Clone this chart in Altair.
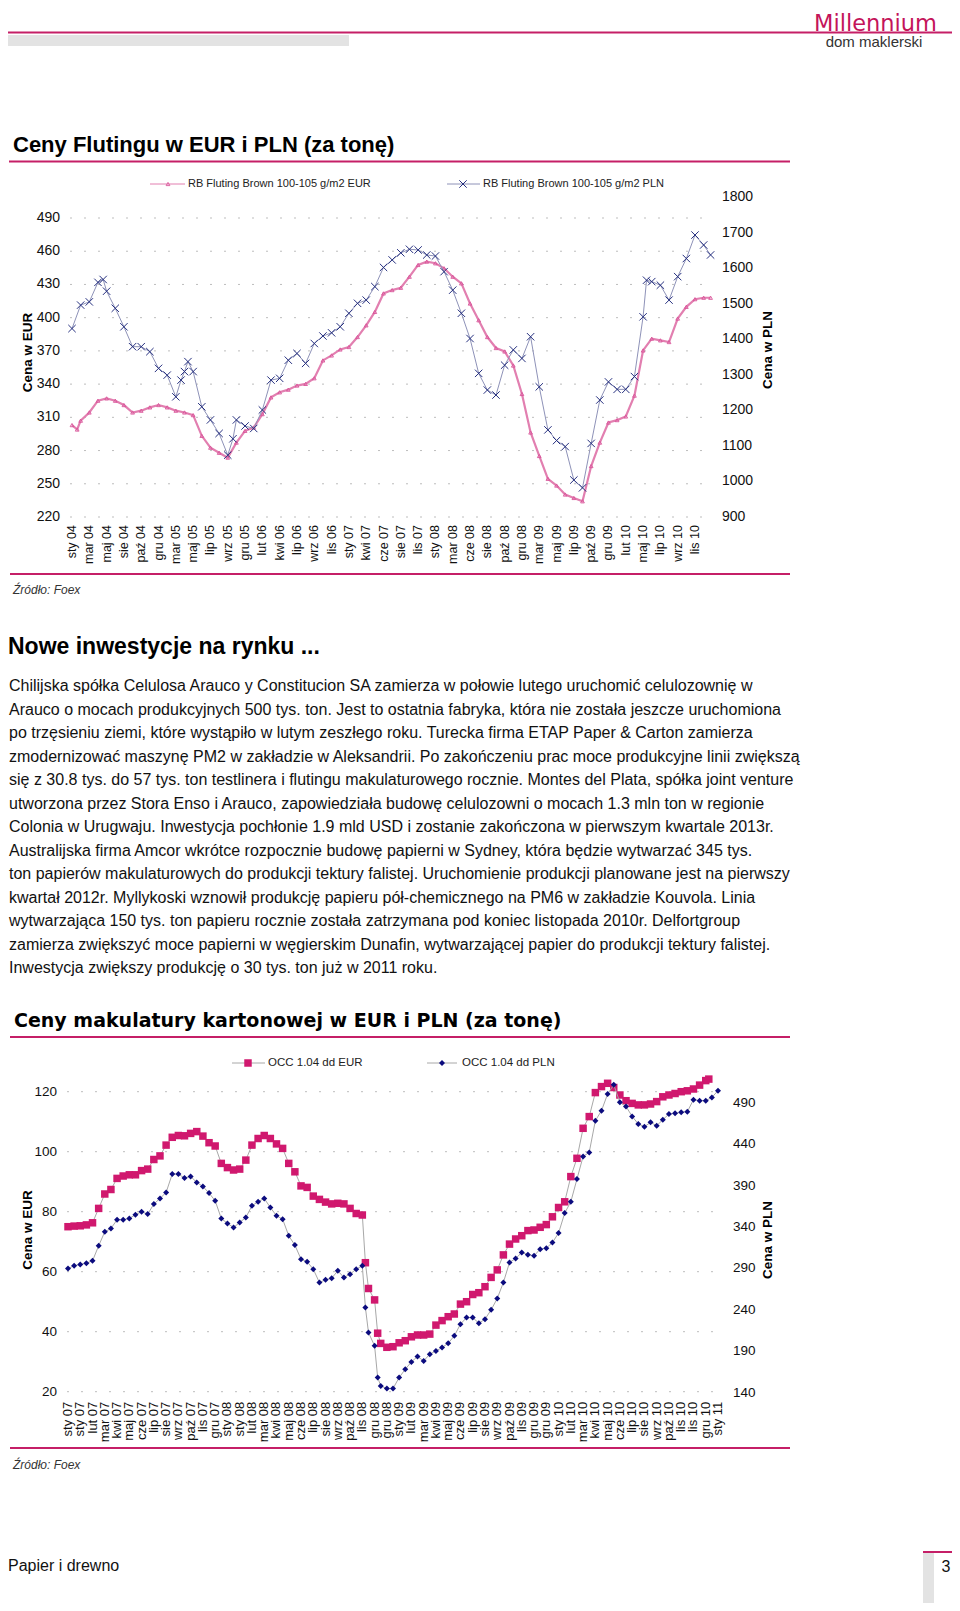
import altair as alt
import pandas as pd

FONT = "Liberation Sans"

# ---------------- data: chart 1 (Fluting, weekly index from sty 04) ----------------
fl_labels = ["sty 04", "mar 04", "maj 04", "sie 04", "paź 04", "gru 04", "mar 05", "maj 05",
             "lip 05", "wrz 05", "gru 05", "lut 06", "kwi 06", "lip 06", "wrz 06", "lis 06",
             "sty 07", "kwi 07", "cze 07", "sie 07", "lis 07", "sty 08", "mar 08", "cze 08",
             "sie 08", "paź 08", "gru 08", "mar 09", "maj 09", "lip 09", "paź 09", "gru 09",
             "lut 10", "maj 10", "lip 10", "wrz 10", "lis 10"]
fl_label_weeks = [0, 10, 20, 30, 40, 50, 60, 70, 80, 90, 100, 110, 120, 130, 140, 150, 160, 170,
                  180, 190, 200, 210, 220, 230, 240, 250, 260, 270, 280, 290, 300, 310, 320, 330,
                  340, 350, 360]

fl_eur_weeks = [0, 3, 5, 10, 15, 20, 25, 30, 35, 40, 45, 50, 55, 60, 65, 70, 75, 80, 85, 90, 95,
                100, 105, 110, 115, 120, 125, 130, 135, 140, 145, 150, 155, 160, 165, 170, 175,
                180, 185, 190, 195, 200, 205, 210, 215, 220, 225, 230, 235, 240, 245, 250, 255,
                260, 265, 270, 275, 280, 285, 290, 295, 300, 305, 310, 315, 320, 325, 330, 335,
                340, 345, 350, 355, 360, 365, 369]
fl_eur = [303, 299, 307, 314.4, 325, 327.1, 325, 321.1, 314.4, 316, 319, 321.1, 319, 316, 314.4,
          312, 293.3, 282.6, 278, 273.6, 287.2, 297.8, 300.8, 312.9, 328, 332.6, 335, 338.7,
          340.2, 345.3, 361.4, 365.9, 371.3, 373.5, 382.5, 393.1, 405.2, 421.9, 424.9, 427, 437,
          447.6, 450.6, 449.1, 444.6, 437, 431, 412.8, 397.7, 382.5, 372.6, 369.5, 356.8, 331.1,
          296.3, 275.1, 254.5, 248.4, 240.3, 237.2, 234.2, 266, 287.2, 305.3, 307.5, 310.8,
          329.6, 370.4, 381, 379.5, 378, 399.2, 409.8, 416.7, 418, 418]

fl_pln_weeks = [0, 5, 10, 15, 18, 20, 25, 30, 35, 40, 45, 50, 55, 60, 63, 65, 67, 70, 75, 80, 85,
                90, 93, 95, 100, 105, 110, 115, 120, 125, 130, 135, 140, 145, 150, 155, 160, 165,
                170, 175, 180, 185, 190, 195, 200, 205, 210, 215, 220, 225, 230, 235, 240, 245,
                250, 255, 260, 265, 270, 275, 280, 285, 290, 295, 300, 305, 310, 315, 320, 325,
                330, 332, 335, 340, 345, 350, 355, 360, 365, 369]
fl_pln = [1430, 1496, 1505, 1560, 1568, 1535, 1487, 1435, 1379, 1379, 1365, 1318, 1299, 1238,
          1285, 1309, 1337, 1309, 1210, 1173, 1135, 1074, 1120, 1173, 1156, 1149, 1201, 1285,
          1290, 1341, 1360, 1332, 1388, 1409, 1418, 1435, 1473, 1501, 1510, 1548, 1602, 1623,
          1643, 1653, 1651, 1637, 1634, 1590, 1538, 1473, 1402, 1304, 1257, 1243, 1327, 1370,
          1346, 1407, 1266, 1145, 1115, 1098, 1004, 982, 1107, 1229, 1280, 1259, 1259, 1295,
          1463, 1566, 1562, 1552, 1510, 1576, 1627, 1693, 1665, 1637]

fl_eur_ticks = [220, 250, 280, 310, 340, 370, 400, 430, 460, 490]
fl_pln_ticks = [900, 1000, 1100, 1200, 1300, 1400, 1500, 1600, 1700, 1800]

# ---------------- data: chart 2 (OCC, weekly index from sty 07) ----------------
occ_labels = ["sty 07", "sty 07", "lut 07", "mar 07", "kwi 07", "maj 07", "cze 07", "lip 07",
              "sie 07", "wrz 07", "paź 07", "lis 07", "gru 07", "sty 08", "sty 08", "lut 08",
              "mar 08", "kwi 08", "maj 08", "cze 08", "lip 08", "sie 08", "wrz 08", "paź 08",
              "lis 08", "gru 08", "gru 08", "sty 09", "lut 09", "mar 09", "kwi 09", "maj 09",
              "cze 09", "lip 09", "sie 09", "wrz 09", "paź 09", "lis 09", "gru 09", "gru 09",
              "sty 10", "lut 10", "mar 10", "kwi 10", "maj 10", "cze 10", "lip 10", "sie 10",
              "wrz 10", "paź 10", "lis 10", "lis 10", "gru 10", "sty 11"]
occ_label_weeks = [4 * i for i in range(len(occ_labels))]

occ_eur_weeks = [0, 2, 4, 6, 8, 10, 12, 14, 16, 18, 20, 22, 24, 26, 28, 30, 32, 34, 36, 38, 40,
                 42, 44, 46, 48, 50, 52, 54, 56, 58, 60, 62, 64, 66, 68, 70, 72, 74, 76, 78, 80,
                 82, 84, 86, 88, 90, 92, 94, 96, 97, 98, 100, 101, 102, 104, 106, 108, 110, 112,
                 114, 116, 118, 120, 122, 124, 126, 128, 130, 132, 134, 136, 138, 140, 142, 144,
                 146, 148, 150, 152, 154, 156, 158, 160, 162, 164, 166, 168, 170, 172, 174, 176,
                 178, 180, 182, 184, 186, 188, 190, 192, 194, 196, 198, 200, 202, 204, 206, 208,
                 209]
occ_eur = [75.0, 75.2, 75.3, 75.6, 76.3, 81.1, 85.9, 87.4, 91.1, 91.9, 92.3, 92.3, 93.7, 94.2,
           97.4, 98.6, 102.2, 104.8, 105.4, 105.3, 106.1, 106.7, 105.2, 103.0, 101.9, 96.1, 94.7,
           93.9, 94.2, 97.2, 102.2, 104.4, 105.4, 104.4, 102.6, 101.1, 96.1, 93.3, 88.6, 88.1,
           85.2, 84.1, 83.2, 82.6, 82.8, 82.6, 81.1, 79.4, 78.9, 63.0, 54.4, 50.6, 39.5, 36.1,
           34.8, 35.0, 36.3, 37.0, 38.3, 38.9, 38.9, 39.2, 42.2, 43.7, 45.0, 45.9, 49.2, 50.0,
           52.4, 53.0, 55.0, 58.1, 60.6, 65.6, 69.2, 70.9, 72.0, 73.7, 73.9, 74.8, 75.7, 78.3,
           81.4, 83.3, 91.7, 97.8, 107.8, 111.7, 119.7, 121.7, 122.8, 121.4, 118.9, 117.0, 116.1,
           115.6, 115.6, 115.9, 116.7, 118.3, 118.9, 119.4, 120.0, 120.3, 120.9, 122.2, 123.7,
           124.2]

occ_pln_weeks = [0, 2, 4, 6, 8, 10, 12, 14, 16, 18, 20, 22, 24, 26, 28, 30, 32, 34, 36, 38, 40,
                 42, 44, 46, 48, 50, 52, 54, 56, 58, 60, 62, 64, 66, 68, 70, 72, 74, 76, 78, 80,
                 82, 84, 86, 88, 90, 92, 94, 96, 97, 98, 100, 101, 102, 104, 106, 108, 110, 112,
                 114, 116, 118, 120, 122, 124, 126, 128, 130, 132, 134, 136, 138, 140, 142, 144,
                 146, 148, 150, 152, 154, 156, 158, 160, 162, 164, 166, 168, 170, 172, 174, 176,
                 178, 180, 182, 184, 186, 188, 190, 192, 194, 196, 198, 200, 202, 204, 206, 208,
                 210, 212]
occ_pln = [289.9, 293.2, 294.8, 296.4, 299.2, 317.4, 334.3, 338.3, 348.8, 348.8, 350.4, 354.9,
           358.5, 355.7, 367.8, 374.6, 381.9, 404.1, 404.1, 399.2, 401.2, 394.0, 389.1, 381.1,
           371.8, 350.4, 344.4, 339.5, 345.6, 351.6, 365.8, 370.6, 374.6, 363.7, 353.6, 349.6,
           329.4, 318.2, 301.2, 298.0, 289.1, 273.0, 276.2, 278.2, 287.1, 279.1, 283.1, 289.1,
           293.2, 242.8, 212.5, 196.4, 158.1, 148.0, 144.7, 144.7, 158.1, 168.1, 177.0, 183.5,
           178.2, 186.3, 190.3, 194.3, 199.6, 208.5, 222.6, 230.6, 230.6, 223.8, 228.6, 239.9,
           253.6, 273.0, 297.2, 302.0, 309.3, 306.5, 305.3, 313.3, 314.5, 321.4, 332.7, 356.9,
           370.6, 398.0, 425.4, 430.3, 468.6, 480.7, 500.9, 512.0, 490.8, 485.9, 473.8, 464.6,
           461.3, 466.6, 462.5, 469.8, 476.7, 477.5, 478.7, 479.5, 494.0, 492.8, 492.8, 496.8,
           504.9]

occ_eur_ticks = [20, 40, 60, 80, 100, 120]
occ_pln_ticks = [140, 190, 240, 290, 340, 390, 440, 490]

paragraph = [
    "Chilijska spółka Celulosa Arauco y Constitucion SA zamierza w połowie lutego uruchomić celulozownię w",
    "Arauco o mocach produkcyjnych 500 tys. ton. Jest to ostatnia fabryka, która nie została jeszcze uruchomiona",
    "po trzęsieniu ziemi, które wystąpiło w lutym zeszłego roku. Turecka firma ETAP Paper & Carton zamierza",
    "zmodernizować maszynę PM2 w zakładzie w Aleksandrii. Po zakończeniu prac moce produkcyjne linii zwiększą",
    "się z 30.8 tys. do 57 tys. ton testlinera i flutingu makulaturowego rocznie. Montes del Plata, spółka joint venture",
    "utworzona przez Stora Enso i Arauco, zapowiedziała budowę celulozowni o mocach 1.3 mln ton w regionie",
    "Colonia w Urugwaju. Inwestycja pochłonie 1.9 mld USD i zostanie zakończona w pierwszym kwartale 2013r.",
    "Australijska firma Amcor wkrótce rozpocznie budowę papierni w Sydney, która będzie wytwarzać 345 tys.",
    "ton papierów makulaturowych do produkcji tektury falistej. Uruchomienie produkcji planowane jest na pierwszy",
    "kwartał 2012r. Myllykoski wznowił produkcję papieru pół-chemicznego na PM6 w zakładzie Kouvola. Linia",
    "wytwarzająca 150 tys. ton papieru rocznie została zatrzymana pod koniec listopada 2010r. Delfortgroup",
    "zamierza zwiększyć moce papierni w węgierskim Dunafin, wytwarzającej papier do produkcji tektury falistej.",
    "Inwestycja zwiększy produkcję o 30 tys. ton już w 2011 roku.",
]

# ---------------- styling ----------------
W, H = 944, 1595
MAGENTA = "#C51F67"
GRID = "#BDBDBD"
XMARK = "M-1,-1L1,1M-1,1L1,-1"


def S(domain, rng):
    return alt.Scale(domain=domain, range=rng, zero=False, nice=False)


X1 = S([0, 360], [64, 687])
YL1 = S([220, 490], [509, 210])
YR1 = S([900, 1800], [509, 189])
X2 = S([0, 212], [60, 710])
YL2 = S([20, 120], [1383.7, 1083.7])
YR2 = S([140, 490], [1384.5, 1095])

one = pd.DataFrame({"t": [""]})


def txt(text, x, y, size, weight="normal", align="left", baseline="middle",
        color="#000000", font=FONT, style="normal", angle=0):
    return alt.Chart(pd.DataFrame({"t": [text]})).mark_text(
        font=font, fontSize=size, fontWeight=weight, align=align, baseline=baseline,
        color=color, fontStyle=style, angle=angle
    ).encode(x=alt.value(x), y=alt.value(y), text="t:N")


def hrule(x1, x2, y, color, width):
    return alt.Chart(one).mark_rule(color=color, strokeWidth=width).encode(
        x=alt.value(x1), x2=alt.value(x2), y=alt.value(y))


def rect(x1, x2, y1, y2, color):
    return alt.Chart(one).mark_rect(color=color).encode(
        x=alt.value(x1), x2=alt.value(x2), y=alt.value(y1), y2=alt.value(y2))


def sym(x, y, shape, size, color, filled, sw=1.0):
    return alt.Chart(one).mark_point(shape=shape, size=size, filled=filled, color=color,
                                     strokeWidth=sw, opacity=1).encode(
        x=alt.value(x), y=alt.value(y))


def grid(ticks, yscale, x1, x2):
    return alt.Chart(pd.DataFrame({"v": ticks})).mark_rule(
        color=GRID, strokeWidth=1, strokeDash=[2, 12]).encode(
        y=alt.Y("v:Q", scale=yscale, axis=None), x=alt.value(x1), x2=alt.value(x2))


def ylabels(ticks, yscale, x, align, size):
    df = pd.DataFrame({"v": ticks, "lab": [str(t) for t in ticks]})
    return alt.Chart(df).mark_text(font=FONT, fontSize=size, align=align, baseline="middle",
                                   color="#111111").encode(
        y=alt.Y("v:Q", scale=yscale, axis=None), x=alt.value(x), text="lab:N")


def xlabels(weeks, labels, xscale, y, size):
    df = pd.DataFrame({"w": weeks, "lab": labels})
    return alt.Chart(df).mark_text(font=FONT, fontSize=size, align="right", baseline="middle",
                                   angle=270, color="#111111").encode(
        x=alt.X("w:Q", scale=xscale, axis=None), y=alt.value(y), text="lab:N")


def series(weeks, vals, xs, ys):
    return alt.Chart(pd.DataFrame({"w": weeks, "v": vals})).encode(
        x=alt.X("w:Q", scale=xs, axis=None), y=alt.Y("v:Q", scale=ys, axis=None))


layers = []

# ---------------- header ----------------
layers += [
    hrule(0, 944, 24.5, MAGENTA, 2),
    rect(0, 341, 27, 38, "#E3E3E3"),
    txt("Millennium", 929, 23, 22.5, align="right", baseline="alphabetic", color="#C4145A",
        font="DejaVu Sans"),
    txt("dom maklerski", 866, 39, 15, align="center", baseline="alphabetic", color="#333333"),
    txt("Ceny Flutingu w EUR i PLN (za tonę)", 5, 144, 22, weight="bold", baseline="alphabetic"),
    hrule(1, 782, 153.5, MAGENTA, 2),
]

# ---------------- chart 1 ----------------
s1e = series(fl_eur_weeks, fl_eur, X1, YL1)
s1p = series(fl_pln_weeks, fl_pln, X1, YR1)
layers += [
    grid(fl_eur_ticks, YL1, 62, 702),
    s1e.mark_line(color="#E27FB0", strokeWidth=2.2),
    s1e.mark_point(shape="triangle-up", size=14, filled=False, color="#D9539A", strokeWidth=0.9,
                   opacity=1),
    s1p.mark_line(color="#8E92B8", strokeWidth=1),
    s1p.mark_point(shape=XMARK, size=55, filled=False, color="#26307F", strokeWidth=1,
                   opacity=1),
    ylabels(fl_eur_ticks, YL1, 52, "right", 14),
    ylabels(fl_pln_ticks, YR1, 714, "left", 14),
    xlabels(fl_label_weeks, fl_labels, X1, 517, 12.5),
    txt("Cena w EUR", 20, 344.5, 13.5, weight="bold", align="center", angle=270),
    txt("Cena w PLN", 760, 342, 13.5, weight="bold", align="center", angle=270),
    # legend
    hrule(142, 177, 176, "#E27FB0", 1),
    sym(160, 176, "triangle-up", 14, "#D9539A", False, 0.9),
    txt("RB Fluting Brown 100-105 g/m2 EUR", 180, 176, 11, color="#222222"),
    hrule(439, 472, 176, "#8E92B8", 1),
    sym(455, 176, XMARK, 55, "#26307F", False, 1),
    txt("RB Fluting Brown 100-105 g/m2 PLN", 475, 176, 11, color="#222222"),
    hrule(2, 782, 566, MAGENTA, 2),
    txt("Źródło: Foex", 5, 582, 12, style="italic", color="#333333"),
]

# ---------------- text section ----------------
para_df = pd.DataFrame({"row": list(range(len(paragraph))), "line": paragraph})
layers += [
    txt("Nowe inwestycje na rynku ...", 0, 639, 23, weight="bold"),
    alt.Chart(para_df).mark_text(font=FONT, fontSize=16, align="left", baseline="middle",
                                 color="#111111").encode(
        y=alt.Y("row:Q", scale=S([0, 12], [678, 960.3]), axis=None),
        x=alt.value(1), text="line:N"),
]

# ---------------- chart 2 ----------------
s2e = series(occ_eur_weeks, occ_eur, X2, YL2)
s2p = series(occ_pln_weeks, occ_pln, X2, YR2)
layers += [
    txt("Ceny makulatury kartonowej w EUR i PLN (za tonę)", 6, 1013, 19, weight="bold",
        font="DejaVu Sans"),
    hrule(2, 782, 1029, MAGENTA, 2),
    grid(occ_eur_ticks, YL2, 59, 710),
    s2e.mark_line(color="#A8A8A8", strokeWidth=1),
    s2e.mark_point(shape="square", size=56, filled=True, color="#D0186E", opacity=1),
    s2p.mark_line(color="#A8A8A8", strokeWidth=1),
    s2p.mark_point(shape="diamond", size=36, filled=True, color="#0B0B7E", opacity=1),
    ylabels(occ_eur_ticks, YL2, 49, "right", 13.5),
    ylabels(occ_pln_ticks, YR2, 725, "left", 13.5),
    xlabels(occ_label_weeks, occ_labels, X2, 1393.7, 13),
    txt("Cena w EUR", 20, 1222, 13.5, weight="bold", align="center", angle=270),
    txt("Cena w PLN", 760, 1232, 13.5, weight="bold", align="center", angle=270),
    # legend
    hrule(224, 257, 1055, "#A8A8A8", 1),
    sym(240, 1055, "square", 56, "#D0186E", True),
    txt("OCC 1.04 dd EUR", 260, 1055, 11.5, color="#222222"),
    hrule(419, 449, 1055, "#A8A8A8", 1),
    sym(434, 1055, "diamond", 36, "#0B0B7E", True),
    txt("OCC 1.04 dd PLN", 454, 1055, 11.5, color="#222222"),
    hrule(2, 782, 1440, MAGENTA, 2),
    txt("Źródło: Foex", 5, 1457, 12, style="italic", color="#333333"),
]

# ---------------- footer ----------------
layers += [
    txt("Papier i drewno", 0, 1558, 16, color="#111111"),
    hrule(915, 944, 1544, MAGENTA, 2),
    rect(915, 926, 1545, 1595, "#E3E3E3"),
    txt("3", 938, 1559, 16, align="center", color="#111111"),
]

chart = alt.layer(*layers).resolve_scale(x="independent", y="independent").properties(
    width=W, height=H, autosize=alt.AutoSizeParams(type="none"), padding=0,
    background="white"
).configure_view(stroke=None)

chart.save("out.html", embed_options={"renderer": "svg", "actions": False})
